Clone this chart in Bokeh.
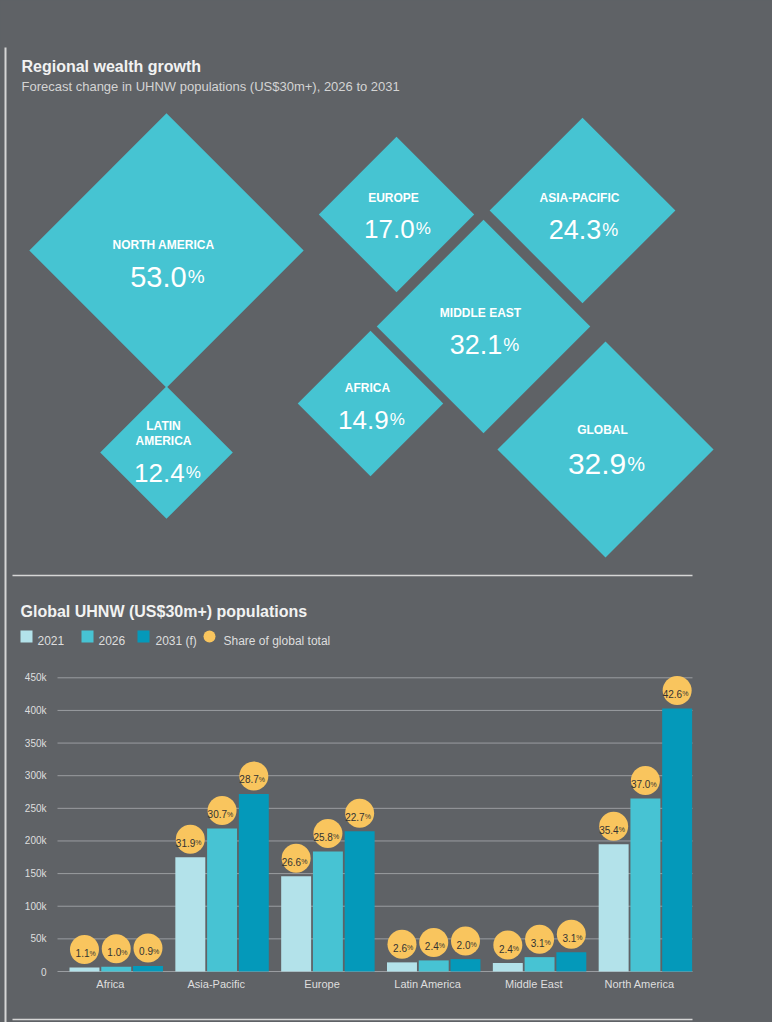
import math
from bokeh.plotting import figure
from bokeh.models import Range1d, ColumnDataSource, GlobalInlineStyleSheet
from bokeh.core.properties import value
from bokeh.embed import file_html
from bokeh.resources import INLINE

# ---------------- data ----------------
growth_regions = ["NORTH AMERICA", "EUROPE", "ASIA-PACIFIC", "MIDDLE EAST", "AFRICA", "GLOBAL", "LATIN AMERICA"]
growth_pct = [53.0, 17.0, 24.3, 32.1, 14.9, 32.9, 12.4]

regions = ["Africa", "Asia-Pacific", "Europe", "Latin America", "Middle East", "North America"]
series_names = ["2021", "2026", "2031 (f)"]
pop_2021 = [6000, 175000, 146000, 14000, 13000, 195000]
pop_2026 = [7200, 219000, 184000, 17000, 22000, 265000]
pop_2031 = [8500, 272000, 215000, 19000, 29500, 403000]
share_2021 = [1.1, 31.9, 26.6, 2.6, 2.4, 35.4]
share_2026 = [1.0, 30.7, 25.8, 2.4, 3.1, 37.0]
share_2031 = [0.9, 28.7, 22.7, 2.0, 3.1, 42.6]
share_label = "Share of global total"
y_ticks = [0, 50000, 100000, 150000, 200000, 250000, 300000, 350000, 400000, 450000]
y_tick_labels = ["0", "50k", "100k", "150k", "200k", "250k", "300k", "350k", "400k", "450k"]

title_top = "Regional wealth growth"
subtitle_top = "Forecast change in UHNW populations (US$30m+), 2026 to 2031"
title_bottom = "Global UHNW (US$30m+) populations"

# ---------------- styles / layout ----------------
W, H = 772, 1022
BG = "#5f6266"
TEAL = "#46c4d2"
BAR_COLORS = ["#b3e2ea", "#47c3d3", "#0499ba"]
YELLOW = "#f9c55e"
TXT = "#dedede"
RULE = "#d6d6d6"
GRID = "#9a9da1"
FONT = value("Liberation Sans")

# chart plotting area on the page (pixels)
PL, PR = 57, 692          # left / right of plotting area
PY0, PY450 = 971, 677.3   # page y of value 0 and of 450k
CAT_W = (PR - PL) / len(regions)
V_PER_PX = 450000 / (PY0 - PY450)


def xu(px):
    return (px - PL) / CAT_W


def yv(py):
    return (PY0 - py) * V_PER_PX


p = figure(width=W, height=H, x_range=Range1d(xu(0), xu(W)), y_range=Range1d(yv(H), yv(0)),
           x_axis_type=None, y_axis_type=None, toolbar_location=None, output_backend="svg",
           min_border=0, title=None, background_fill_color=BG, border_fill_color=BG)
p.outline_line_color = None
p.extra_x_ranges = {"px": Range1d(0, W)}
p.extra_y_ranges = {"px": Range1d(H, 0)}
PX = dict(x_range_name="px", y_range_name="px")

# page rules
p.segment(x0=[5], y0=[47], x1=[5], y1=[H], line_color=RULE, line_width=2, **PX)
p.segment(x0=[12, 12], y0=[575, 1019], x1=[692, 692], y1=[575, 1019], line_color=RULE, line_width=1.5, **PX)

# titles
p.text(x=[21], y=[66], text=[title_top], text_font=FONT, text_font_style="bold",
       text_font_size="16px", text_color="#f2f2f2", text_baseline="alphabetic", **PX)
p.text(x=[21], y=[86], text=[subtitle_top], text_font=FONT,
       text_font_size="13px", text_color="#d4d4d4", text_baseline="alphabetic", **PX)
p.text(x=[20], y=[611], text=[title_bottom], text_font=FONT, text_font_style="bold",
       text_font_size="16px", text_color="#f2f2f2", text_baseline="alphabetic", **PX)

# ---------------- diamonds ----------------
d_cx = [166, 396, 582, 483, 370, 605, 166]
d_cy = [250, 214, 210, 326, 403, 449, 452]
d_lab_y = [244, 197, 197, 312, 387, 429, 433]
d_val_y = [276, 228, 229, 344, 419, 463, 472]
d_val_fs = [29, 26, 27, 27, 26, 30, 26]
K_SIZE = 18.84  # half-diagonal (px) per sqrt(percent)

sizes = [K_SIZE * math.sqrt(v) * math.sqrt(2) for v in growth_pct]
labels = [r.replace(" ", "\n") if r == "LATIN AMERICA" else r for r in growth_regions]
num_txt = [f"{v:.1f}" for v in growth_pct]
dsrc = ColumnDataSource(dict(cx=d_cx, cy=d_cy, size=sizes, lab=labels, lab_x=[c - 3 for c in d_cx],
                             lab_y=d_lab_y, val_y=d_val_y, num=num_txt,
                             num_x=[c + 1 + 0.66 * fs for c, fs in zip(d_cx, d_val_fs)],
                             fs=[f"{fs}px" for fs in d_val_fs],
                             pfs=[f"{round(fs * 0.66)}px" for fs in d_val_fs]))
p.scatter(x="cx", y="cy", size="size", marker="square", angle=math.pi / 4,
          fill_color=TEAL, line_color=None, source=dsrc, **PX)
p.text(x="lab_x", y="lab_y", text="lab", source=dsrc, text_font=FONT, text_font_style="bold",
       text_font_size="12px", text_color="white", text_align="center", text_baseline="middle",
       text_line_height=1.1, **PX)
p.text(x="num_x", y="val_y", text="num", source=dsrc, text_font=FONT, text_font_size="fs",
       text_color="white", text_align="right", text_baseline="alphabetic", **PX)
p.text(x="num_x", y="val_y", text=value("%"), source=dsrc, text_font=FONT, text_font_size="pfs",
       text_color="white", text_align="left", text_baseline="alphabetic", x_offset=1, **PX)

# ---------------- legend ----------------
leg_sq_x = [26, 87, 143]
leg_txt_x = [37, 98, 155]
p.scatter(x=leg_sq_x, y=[636] * 3, size=12, marker="square", fill_color=BAR_COLORS, line_color=None, **PX)
p.text(x=leg_txt_x, y=[640] * 3, text=series_names, text_font=FONT, text_font_size="12px",
       text_color=TXT, text_baseline="alphabetic", **PX)
p.scatter(x=[209], y=[636], size=12, marker="circle", fill_color=YELLOW, line_color=None, **PX)
p.text(x=[223], y=[640], text=[share_label], text_font=FONT, text_font_size="12px",
       text_color=TXT, text_baseline="alphabetic", **PX)

# ---------------- bar chart (value scale) ----------------
# y grid and tick labels
p.segment(x0=[PL] * len(y_ticks), x1=[PR] * len(y_ticks), y0=y_ticks, y1=y_ticks,
          line_color=GRID, line_width=1, x_range_name="px")
p.text(x=[PL - 11] * len(y_ticks), y=y_ticks, text=y_tick_labels, text_font=FONT, text_font_size="10px",
       text_color=TXT, text_align="right", text_baseline="middle", x_range_name="px")

# category labels
cat_x = [i + 0.5 for i in range(len(regions))]
p.text(x=cat_x, y=[0] * len(regions), text=regions, text_font=FONT, text_font_size="11px",
       text_color=TXT, text_align="center", text_baseline="middle", y_offset=12)

pops = [pop_2021, pop_2026, pop_2031]
shares = [share_2021, share_2026, share_2031]
offsets = [-0.245, 0.055, 0.355]
BW = 0.283
lift = 18 * V_PER_PX  # circle centre 18px above bar top

for i in range(3):
    src = ColumnDataSource(dict(
        x=[c + offsets[i] for c in cat_x],
        top=pops[i],
        cy=[v + lift for v in pops[i]],
        s=[f"{s:.1f}" for s in shares[i]],
    ))
    p.vbar(x="x", top="top", bottom=0, width=BW, fill_color=BAR_COLORS[i], line_color=None, source=src)
    p.scatter(x="x", y="cy", size=29, marker="circle", fill_color=YELLOW, line_color=None, source=src)
    p.text(x="x", y="cy", text="s", source=src, text_font=FONT, text_font_size="10px",
           text_color="#333333", text_align="right", text_baseline="alphabetic",
           x_offset=5, y_offset=3.5)
    p.text(x="x", y="cy", text=value("%"), source=src, text_font=FONT, text_font_size="7px",
           text_color="#333333", text_align="left", text_baseline="alphabetic",
           x_offset=5, y_offset=3.5)

page_css = GlobalInlineStyleSheet(css=f"html, body {{ margin: 0; padding: 0; background: {BG}; }}")
p.stylesheets = [page_css]
open("out.html", "w").write(file_html(p, INLINE))
